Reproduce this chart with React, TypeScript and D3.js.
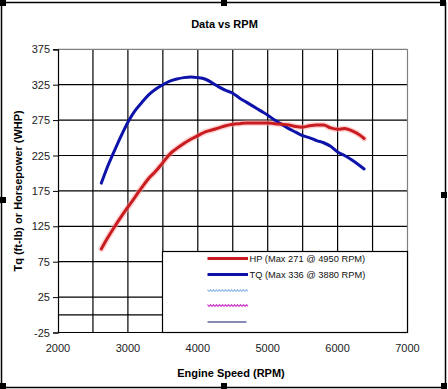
import * as React from "react";
import * as d3 from "d3";

// engine speed samples (RPM)
const rpm: number[] = [2620, 2700, 2800, 2900, 3000, 3100, 3200, 3300, 3400, 3500, 3600, 3700, 3800, 3900,
    4000, 4100, 4200, 4300, 4400, 4500, 4600, 4700, 4800, 4900, 5000, 5100, 5200, 5300, 5400, 5500,
    5600, 5700, 5800, 5900, 6000, 6100, 6200, 6300, 6380];
// horsepower (WHP)
const hp: number[] = [93, 107, 123, 138, 152, 166, 180, 193, 203, 215, 227, 235, 242, 248,
    253, 258, 261, 264, 267, 269, 270, 271, 271, 271, 271, 270, 269, 268, 266, 265,
    267, 268, 268, 264, 262, 263, 260, 255, 249];
// torque (ft-lb)
const tq: number[] = [186, 207, 230, 252, 272, 288, 300, 311, 319, 325, 330, 333, 335, 336,
    335, 333, 328, 322, 317, 313, 306, 300, 294, 288, 282, 275, 269, 263, 258, 253,
    250, 246, 243, 238, 230, 225, 219, 212, 206];

const xTicks: number[] = [2000, 3000, 4000, 5000, 6000, 7000];
const xGrid: number[] = [2500, 3000, 3500, 4000, 4500, 5000, 5500, 6000, 6500];
const yTicks: number[] = [-25, 25, 75, 125, 175, 225, 275, 325, 375];
const legendLabels: string[] = ["HP (Max 271 @ 4950 RPM)", "TQ (Max 336 @ 3880 RPM)", "", "", ""];

const W: number = 448;
const H: number = 389;
const red: string = "rgb(200, 28, 32)";
const blue: string = "rgb(12, 18, 170)";
const font: string = "'Liberation Sans', Arial, sans-serif";

type Pt = { x: number; y: number };

export default function App(): JSX.Element {
    const ref = React.useRef<SVGSVGElement>(null);

    React.useEffect(() => {
        document.body.style.margin = "0";
        const svg = d3.select(ref.current);
        svg.selectAll("*").remove();

        const plot = { left: 58, right: 407.5, top: 49.3, bottom: 332.5 };
        const x = d3.scaleLinear().domain([2000, 7000]).range([plot.left, plot.right]);
        const y = d3.scaleLinear().domain([-25, 375]).range([plot.bottom, plot.top]);

        svg.append("rect").attr("width", W).attr("height", H).attr("fill", "white");

        // outer chart frame + selection handles
        svg.append("rect")
            .attr("x", 1.5).attr("y", 2.5).attr("width", 444).attr("height", 385)
            .attr("fill", "none").attr("stroke", "black").attr("stroke-width", 1.5);
        const handles: number[][] = [[0, 0], [221, 0], [440, 0], [0, 197], [441, 192], [0, 383], [221, 383], [441, 383]];
        svg.selectAll(".handle").data(handles).enter().append("rect")
            .attr("x", (d) => d[0]).attr("y", (d) => d[1])
            .attr("width", 6).attr("height", 6).attr("fill", "black");

        // title
        svg.append("text")
            .attr("x", 224.5).attr("y", 28)
            .attr("text-anchor", "middle")
            .attr("font-family", font).attr("font-weight", "bold").attr("font-size", 11)
            .text("Data vs RPM");

        // grid
        const g = svg.append("g");
        g.selectAll(".vg").data(xGrid).enter().append("line")
            .attr("x1", (d) => x(d)).attr("x2", (d) => x(d))
            .attr("y1", plot.top).attr("y2", plot.bottom)
            .attr("stroke", "black").attr("stroke-width", 1.2);
        g.selectAll(".hg").data(yTicks.slice(1, -1).concat([0])).enter().append("line")
            .attr("x1", plot.left).attr("x2", plot.right)
            .attr("y1", (d) => y(d)).attr("y2", (d) => y(d))
            .attr("stroke", "black").attr("stroke-width", 1.2);
        // plot border: grey top/right, black left/bottom
        g.append("line").attr("x1", plot.left).attr("x2", plot.right).attr("y1", plot.top).attr("y2", plot.top)
            .attr("stroke", "#808080").attr("stroke-width", 1.2);
        g.append("line").attr("x1", plot.right).attr("x2", plot.right).attr("y1", plot.top).attr("y2", plot.bottom)
            .attr("stroke", "#808080").attr("stroke-width", 1.2);
        g.append("line").attr("x1", plot.left).attr("x2", plot.right).attr("y1", plot.bottom).attr("y2", plot.bottom)
            .attr("stroke", "black").attr("stroke-width", 1.2);

        // y axis
        const yAxis = d3.axisLeft(y).tickValues(yTicks).tickSize(5).tickPadding(3)
            .tickFormat((d) => String(d));
        const yG = svg.append("g").attr("transform", `translate(${plot.left},0)`).call(yAxis);
        yG.select(".domain").attr("stroke", "black").attr("stroke-width", 1.2);
        yG.selectAll("line").attr("stroke", "black");
        yG.selectAll("text").attr("font-family", font).attr("font-size", 11).attr("fill", "#222");

        // x axis labels
        svg.selectAll(".xl").data(xTicks).enter().append("text")
            .attr("x", (d) => x(d)).attr("y", 352)
            .attr("text-anchor", "middle")
            .attr("font-family", font).attr("font-size", 11).attr("fill", "#222")
            .text((d) => String(d));

        svg.append("text")
            .attr("x", 231).attr("y", 377)
            .attr("text-anchor", "middle")
            .attr("font-family", font).attr("font-weight", "bold").attr("font-size", 11)
            .text("Engine Speed (RPM)");
        svg.append("text")
            .attr("transform", `translate(22, ${(plot.top + plot.bottom) / 2}) rotate(-90)`)
            .attr("text-anchor", "middle")
            .attr("font-family", font).attr("font-weight", "bold").attr("font-size", 11)
            .text("Tq (ft-lb) or Horsepower (WHP)");

        // series
        const line = d3.line<Pt>().x((p) => x(p.x)).y((p) => y(p.y)).curve(d3.curveMonotoneX);
        const hpPts: Pt[] = rpm.map((r, i) => ({ x: r, y: hp[i] }));
        const tqPts: Pt[] = rpm.map((r, i) => ({ x: r, y: tq[i] }));
        svg.append("path").attr("d", line(hpPts)).attr("fill", "none")
            .attr("stroke", "rgba(255, 160, 160, 0.45)").attr("stroke-width", 6).attr("stroke-linecap", "round");
        svg.append("path").attr("d", line(tqPts)).attr("fill", "none")
            .attr("stroke", blue).attr("stroke-width", 3).attr("stroke-linecap", "round");
        svg.append("path").attr("d", line(hpPts)).attr("fill", "none")
            .attr("stroke", red).attr("stroke-width", 3).attr("stroke-linecap", "round");

        // legend
        const lg = svg.append("g");
        lg.append("rect")
            .attr("x", 162.5).attr("y", 251.5).attr("width", 245).attr("height", 81)
            .attr("fill", "white").attr("stroke", "black").attr("stroke-width", 1.2);
        const rowY: number[] = [258.5, 274.5, 290.5, 305.5, 322];
        const x0: number = 207.5;
        const x1: number = 248;
        lg.append("line").attr("x1", x0).attr("x2", x1).attr("y1", rowY[0]).attr("y2", rowY[0])
            .attr("stroke", red).attr("stroke-width", 3);
        lg.append("line").attr("x1", x0).attr("x2", x1).attr("y1", rowY[1]).attr("y2", rowY[1])
            .attr("stroke", blue).attr("stroke-width", 3);
        const zig = (yy: number): string => {
            const pts: [number, number][] = [];
            for (let xx: number = x0; xx <= x1; xx += 1.5) {
                pts.push([xx, yy + ((Math.round((xx - x0) / 1.5) % 2) ? 0.8 : -0.8)]);
            }
            return d3.line()(pts) as string;
        };
        lg.append("path").attr("d", zig(rowY[2])).attr("fill", "none")
            .attr("stroke", "rgb(150, 190, 235)").attr("stroke-width", 1.2);
        lg.append("path").attr("d", zig(rowY[3])).attr("fill", "none")
            .attr("stroke", "rgb(200, 60, 200)").attr("stroke-width", 1.2);
        lg.append("line").attr("x1", x0).attr("x2", 246.5).attr("y1", rowY[4]).attr("y2", rowY[4])
            .attr("stroke", "rgb(20, 20, 110)").attr("stroke-width", 1);
        lg.selectAll(".lt").data(legendLabels).enter().append("text")
            .attr("x", 249.5).attr("y", (d, i) => rowY[i] + 3.5)
            .attr("font-family", font).attr("font-size", 9.3).attr("fill", "#111")
            .text((d) => d);
    }, []);

    return <svg ref={ref} width={W} height={H} style={{ display: "block" }} />;
}
